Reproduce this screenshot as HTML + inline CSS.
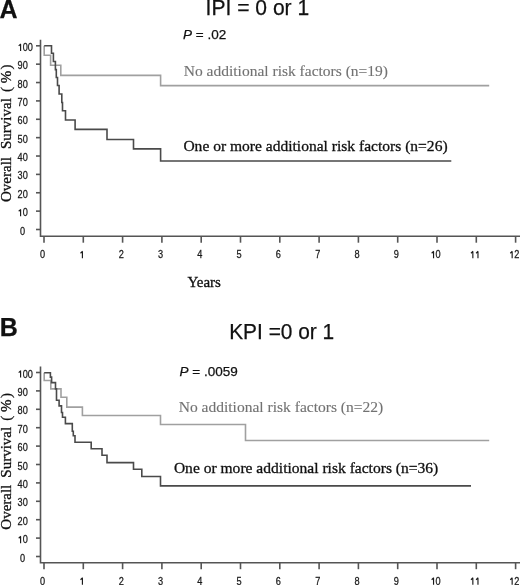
<!DOCTYPE html>
<html><head><meta charset="utf-8"><style>
html,body{margin:0;padding:0;background:#fff;}
body{width:520px;height:585px;overflow:hidden;}
svg{display:block;filter:grayscale(1);}
.ax{stroke:#555;stroke-width:1.6;fill:none;}
.cg{stroke:#a0a0a0;stroke-width:1.6;fill:none;}
.cb{stroke:#4a4a4a;stroke-width:1.6;fill:none;}
.tk{font-family:"Liberation Sans",sans-serif;font-size:10px;fill:#1a1a1a;stroke:#1a1a1a;stroke-width:0.25px;}
.sans{font-family:"Liberation Sans",sans-serif;fill:#111;stroke:#111;stroke-width:0.25px;}
.serif{font-family:"Liberation Serif",serif;}
.one{stroke:#1a1a1a;stroke-width:1.15;fill:none;}
</style></head><body>
<svg width="520" height="585" viewBox="0 0 520 585">
<text x="-0.6" y="18.0" class="sans" style="font-weight:bold;font-size:25px">A</text>
<text x="205.6" y="15.2" class="sans" style="font-size:21.8px" textLength="103.6" lengthAdjust="spacingAndGlyphs">IPI = 0 or 1</text>
<text x="183.0" y="39.2" class="sans" style="font-size:13.5px"><tspan font-style="italic">P</tspan> = .02</text>
<text x="183.8" y="75.9" class="serif" style="font-size:14.5px;fill:#727272;stroke:#727272;stroke-width:0.12px" textLength="204.2" lengthAdjust="spacingAndGlyphs">No additional risk factors (n=19)</text>
<text x="183.4" y="150.5" class="serif" style="font-size:15px;fill:#111;stroke:#111;stroke-width:0.3px" textLength="264.2" lengthAdjust="spacingAndGlyphs">One or more additional risk factors (n=26)</text>
<text x="187.4" y="287.4" class="serif" style="font-size:15px;fill:#111;stroke:#111;stroke-width:0.3px">Years</text>
<g transform="translate(11.3,0) rotate(-90)" class="serif" style="font-size:15px;fill:#111;stroke:#111;stroke-width:0.3px"><text x="-202.0" y="0">Overall</text><text x="-149.0" y="0">Survival</text><text x="-92.0" y="0">(</text><text x="-83.3" y="0">%</text><text x="-69.5" y="0">)</text></g>
<path d="M40.5,39.7 V236.3 H520" class="ax"/>
<path d="M36,45.80 H40.5" class="ax"/>
<path d="M36,64.17 H40.5" class="ax"/>
<path d="M36,82.54 H40.5" class="ax"/>
<path d="M36,100.91 H40.5" class="ax"/>
<path d="M36,119.28 H40.5" class="ax"/>
<path d="M36,137.65 H40.5" class="ax"/>
<path d="M36,156.02 H40.5" class="ax"/>
<path d="M36,174.39 H40.5" class="ax"/>
<path d="M36,192.76 H40.5" class="ax"/>
<path d="M36,211.13 H40.5" class="ax"/>
<path d="M36,229.50 H40.5" class="ax"/>
<path d="M44.00,236.3 V242.70" class="ax"/>
<path d="M83.30,236.3 V242.70" class="ax"/>
<path d="M122.60,236.3 V242.70" class="ax"/>
<path d="M161.90,236.3 V242.70" class="ax"/>
<path d="M201.20,236.3 V242.70" class="ax"/>
<path d="M240.50,236.3 V242.70" class="ax"/>
<path d="M279.80,236.3 V242.70" class="ax"/>
<path d="M319.10,236.3 V242.70" class="ax"/>
<path d="M358.40,236.3 V242.70" class="ax"/>
<path d="M397.70,236.3 V242.70" class="ax"/>
<path d="M437.00,236.3 V242.70" class="ax"/>
<path d="M476.30,236.3 V242.70" class="ax"/>
<path d="M515.60,236.3 V242.70" class="ax"/>
<text transform="translate(25.20,50.90) scale(0.92,1)" class="tk" text-anchor="middle"> 00</text>
<path d="M20.60,50.90 V43.90 M20.80,44.00 L18.70,45.90" class="one"/>
<text transform="translate(22.65,69.27) scale(0.92,1)" class="tk" text-anchor="middle">90</text>
<text transform="translate(22.65,87.64) scale(0.92,1)" class="tk" text-anchor="middle">80</text>
<text transform="translate(22.65,106.01) scale(0.92,1)" class="tk" text-anchor="middle">70</text>
<text transform="translate(22.65,124.38) scale(0.92,1)" class="tk" text-anchor="middle">60</text>
<text transform="translate(22.65,142.75) scale(0.92,1)" class="tk" text-anchor="middle">50</text>
<text transform="translate(22.65,161.12) scale(0.92,1)" class="tk" text-anchor="middle">40</text>
<text transform="translate(22.65,179.49) scale(0.92,1)" class="tk" text-anchor="middle">30</text>
<text transform="translate(22.65,197.86) scale(0.92,1)" class="tk" text-anchor="middle">20</text>
<text transform="translate(22.65,216.23) scale(0.92,1)" class="tk" text-anchor="middle"> 0</text>
<path d="M20.60,216.23 V209.23 M20.80,209.33 L18.70,211.23" class="one"/>
<text transform="translate(22.65,234.60) scale(0.92,1)" class="tk" text-anchor="middle">0</text>
<text transform="translate(42.60,258.20) scale(0.92,1)" class="tk" text-anchor="middle">0</text>
<text transform="translate(81.90,258.20) scale(0.92,1)" class="tk" text-anchor="middle"> </text>
<path d="M82.41,258.20 V251.20 M82.61,251.30 L80.51,253.20" class="one"/>
<text transform="translate(121.20,258.20) scale(0.92,1)" class="tk" text-anchor="middle">2</text>
<text transform="translate(160.50,258.20) scale(0.92,1)" class="tk" text-anchor="middle">3</text>
<text transform="translate(199.80,258.20) scale(0.92,1)" class="tk" text-anchor="middle">4</text>
<text transform="translate(239.10,258.20) scale(0.92,1)" class="tk" text-anchor="middle">5</text>
<text transform="translate(278.40,258.20) scale(0.92,1)" class="tk" text-anchor="middle">6</text>
<text transform="translate(317.70,258.20) scale(0.92,1)" class="tk" text-anchor="middle">7</text>
<text transform="translate(357.00,258.20) scale(0.92,1)" class="tk" text-anchor="middle">8</text>
<text transform="translate(396.30,258.20) scale(0.92,1)" class="tk" text-anchor="middle">9</text>
<text transform="translate(435.60,258.20) scale(0.92,1)" class="tk" text-anchor="middle"> 0</text>
<path d="M433.55,258.20 V251.20 M433.75,251.30 L431.65,253.20" class="one"/>
<text transform="translate(474.90,258.20) scale(0.92,1)" class="tk" text-anchor="middle">  </text>
<path d="M472.85,258.20 V251.20 M473.05,251.30 L470.95,253.20" class="one"/>
<path d="M477.97,258.20 V251.20 M478.17,251.30 L476.07,253.20" class="one"/>
<text transform="translate(514.20,258.20) scale(0.92,1)" class="tk" text-anchor="middle"> 2</text>
<path d="M512.15,258.20 V251.20 M512.35,251.30 L510.25,253.20" class="one"/>
<path d="M44.2,45.8 V55.2 H50.6 V65.2 H60.8 V75.4 H160.6 V85.6 H489.2" class="cg"/>
<path d="M44.2,45.8 H51.5 V53.2 H53.4 V61.5 H55.4 V69.6 H56.3 V77.5 H57.5 V85.5 H59.1 V94 H61.8 V102.5 H62.5 V110.8 H65.5 V120.0 H75.1 V129.4 H107 V139.55 H133.5 V148.9 H160.6 V161.0 H451.3" class="cb"/>

<text x="-0.3" y="335.6" class="sans" style="font-weight:bold;font-size:25px">B</text>
<text x="229.2" y="339" class="sans" style="font-size:21.8px" textLength="105.0" lengthAdjust="spacingAndGlyphs">KPI =0 or 1</text>
<text x="179.6" y="375.9" class="sans" style="font-size:13.5px"><tspan font-style="italic">P</tspan> = .0059</text>
<text x="178.7" y="411.7" class="serif" style="font-size:14.5px;fill:#727272;stroke:#727272;stroke-width:0.12px" textLength="204.6" lengthAdjust="spacingAndGlyphs">No additional risk factors (n=22)</text>
<text x="173.9" y="472.9" class="serif" style="font-size:15px;fill:#111;stroke:#111;stroke-width:0.3px" textLength="264.4" lengthAdjust="spacingAndGlyphs">One or more additional risk factors (n=36)</text>
<g transform="translate(11.3,0) rotate(-90)" class="serif" style="font-size:15px;fill:#111;stroke:#111;stroke-width:0.3px"><text x="-529.7" y="0">Overall</text><text x="-477.7" y="0">Survival</text><text x="-420.7" y="0">(</text><text x="-412.0" y="0">%</text><text x="-398.0" y="0">)</text></g>
<path d="M40.5,366.6 V562.8 H520" class="ax"/>
<path d="M36,372.50 H40.5" class="ax"/>
<path d="M36,390.90 H40.5" class="ax"/>
<path d="M36,409.30 H40.5" class="ax"/>
<path d="M36,427.70 H40.5" class="ax"/>
<path d="M36,446.10 H40.5" class="ax"/>
<path d="M36,464.50 H40.5" class="ax"/>
<path d="M36,482.90 H40.5" class="ax"/>
<path d="M36,501.30 H40.5" class="ax"/>
<path d="M36,519.70 H40.5" class="ax"/>
<path d="M36,538.10 H40.5" class="ax"/>
<path d="M36,556.50 H40.5" class="ax"/>
<path d="M44.00,562.8 V569.20" class="ax"/>
<path d="M83.30,562.8 V569.20" class="ax"/>
<path d="M122.60,562.8 V569.20" class="ax"/>
<path d="M161.90,562.8 V569.20" class="ax"/>
<path d="M201.20,562.8 V569.20" class="ax"/>
<path d="M240.50,562.8 V569.20" class="ax"/>
<path d="M279.80,562.8 V569.20" class="ax"/>
<path d="M319.10,562.8 V569.20" class="ax"/>
<path d="M358.40,562.8 V569.20" class="ax"/>
<path d="M397.70,562.8 V569.20" class="ax"/>
<path d="M437.00,562.8 V569.20" class="ax"/>
<path d="M476.30,562.8 V569.20" class="ax"/>
<path d="M515.60,562.8 V569.20" class="ax"/>
<text transform="translate(25.20,377.60) scale(0.92,1)" class="tk" text-anchor="middle"> 00</text>
<path d="M20.60,377.60 V370.60 M20.80,370.70 L18.70,372.60" class="one"/>
<text transform="translate(22.65,396.00) scale(0.92,1)" class="tk" text-anchor="middle">90</text>
<text transform="translate(22.65,414.40) scale(0.92,1)" class="tk" text-anchor="middle">80</text>
<text transform="translate(22.65,432.80) scale(0.92,1)" class="tk" text-anchor="middle">70</text>
<text transform="translate(22.65,451.20) scale(0.92,1)" class="tk" text-anchor="middle">60</text>
<text transform="translate(22.65,469.60) scale(0.92,1)" class="tk" text-anchor="middle">50</text>
<text transform="translate(22.65,488.00) scale(0.92,1)" class="tk" text-anchor="middle">40</text>
<text transform="translate(22.65,506.40) scale(0.92,1)" class="tk" text-anchor="middle">30</text>
<text transform="translate(22.65,524.80) scale(0.92,1)" class="tk" text-anchor="middle">20</text>
<text transform="translate(22.65,543.20) scale(0.92,1)" class="tk" text-anchor="middle"> 0</text>
<path d="M20.60,543.20 V536.20 M20.80,536.30 L18.70,538.20" class="one"/>
<text transform="translate(22.65,561.60) scale(0.92,1)" class="tk" text-anchor="middle">0</text>
<text transform="translate(42.60,584.70) scale(0.92,1)" class="tk" text-anchor="middle">0</text>
<text transform="translate(81.90,584.70) scale(0.92,1)" class="tk" text-anchor="middle"> </text>
<path d="M82.41,584.70 V577.70 M82.61,577.80 L80.51,579.70" class="one"/>
<text transform="translate(121.20,584.70) scale(0.92,1)" class="tk" text-anchor="middle">2</text>
<text transform="translate(160.50,584.70) scale(0.92,1)" class="tk" text-anchor="middle">3</text>
<text transform="translate(199.80,584.70) scale(0.92,1)" class="tk" text-anchor="middle">4</text>
<text transform="translate(239.10,584.70) scale(0.92,1)" class="tk" text-anchor="middle">5</text>
<text transform="translate(278.40,584.70) scale(0.92,1)" class="tk" text-anchor="middle">6</text>
<text transform="translate(317.70,584.70) scale(0.92,1)" class="tk" text-anchor="middle">7</text>
<text transform="translate(357.00,584.70) scale(0.92,1)" class="tk" text-anchor="middle">8</text>
<text transform="translate(396.30,584.70) scale(0.92,1)" class="tk" text-anchor="middle">9</text>
<text transform="translate(435.60,584.70) scale(0.92,1)" class="tk" text-anchor="middle"> 0</text>
<path d="M433.55,584.70 V577.70 M433.75,577.80 L431.65,579.70" class="one"/>
<text transform="translate(474.90,584.70) scale(0.92,1)" class="tk" text-anchor="middle">  </text>
<path d="M472.85,584.70 V577.70 M473.05,577.80 L470.95,579.70" class="one"/>
<path d="M477.97,584.70 V577.70 M478.17,577.80 L476.07,579.70" class="one"/>
<text transform="translate(514.20,584.70) scale(0.92,1)" class="tk" text-anchor="middle"> 2</text>
<path d="M512.15,584.70 V577.70 M512.35,577.80 L510.25,579.70" class="one"/>
<path d="M44.2,372.7 V380.5 H50.8 V388.9 H61 V397.3 H66.8 V407.1 H82.4 V415.5 H160.5 V424.5 H245.5 V440.5 H489.2" class="cg"/>
<path d="M44.2,372.7 H50.4 V377.1 H51.6 V382.6 H55.5 V388.9 H56.5 V400.2 H59.1 V405.9 H61.5 V412.5 H62.5 V417.3 H65.4 V423.6 H72.3 V431.3 H73.3 V435.8 H75 V442.3 H91.2 V448.7 H102 V455.3 H107 V462.6 H133.5 V469.3 H141.8 V476.5 H160.5 V485.9 H471" class="cb"/>
</svg>
</body></html>
